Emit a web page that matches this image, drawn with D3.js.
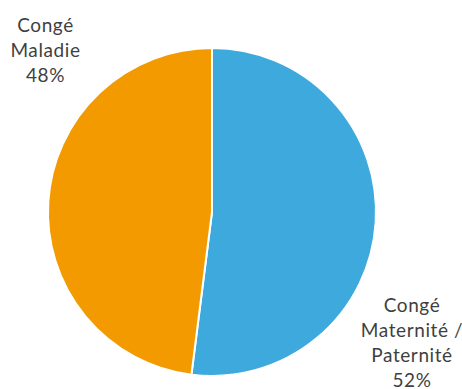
<!DOCTYPE html>
<html>
<head>
<meta charset="utf-8">
<script src="https://cdn.jsdelivr.net/npm/d3@7"></script>
<style>
  html, body { margin: 0; padding: 0; background: #ffffff; }
  svg { display: block; }
</style>
</head>
<body>
<svg id="chart" width="462" height="389"></svg>
<script>
// Répartition des congés
const categories = ["Congé Maternité / Paternité", "Congé Maladie"];
const values = [52, 48];
const colors = ["#3DA9DD", "#F29A00"];
// Label lines for each slice
const labelLines = [
  ["Congé", "Maternité /", "Paternité", "52%"],
  ["Congé", "Maladie", "48%"]
];

const svg = d3.select("#chart");
const cx = 212, cy = 212, r = 164;

const data = categories.map((c, i) => ({ name: c, value: values[i], color: colors[i], lines: labelLines[i] }));

const pie = d3.pie().value(d => d.value).sort(null);
const arc = d3.arc().innerRadius(0).outerRadius(r);

const g = svg.append("g").attr("transform", `translate(${cx},${cy})`);
const arcs = pie(data);

g.selectAll("path")
  .data(arcs)
  .join("path")
  .attr("d", arc)
  .attr("fill", d => d.data.color)
  .attr("stroke", "#ffffff")
  .attr("stroke-width", 2);

// Labels outside the pie
const labelPos = [
  { x: 412, y: 311.5 },
  { x: 45.5, y: 31.5 }
];
const lineH = 25;

svg.selectAll("text.lbl")
  .data(data)
  .join("text")
  .attr("class", "lbl")
  .attr("font-family", "Lato, 'Open Sans', sans-serif")
  .attr("font-size", 19)
  .attr("letter-spacing", 0.6)
  .attr("fill", "#3f3f3f")
  .attr("text-anchor", "middle")
  .each(function(d, i) {
    const t = d3.select(this);
    d.lines.forEach((ln, j) => {
      t.append("tspan")
        .attr("x", labelPos[i].x)
        .attr("y", labelPos[i].y + j * lineH)
        .text(ln);
    });
  });
</script>
</body>
</html>
